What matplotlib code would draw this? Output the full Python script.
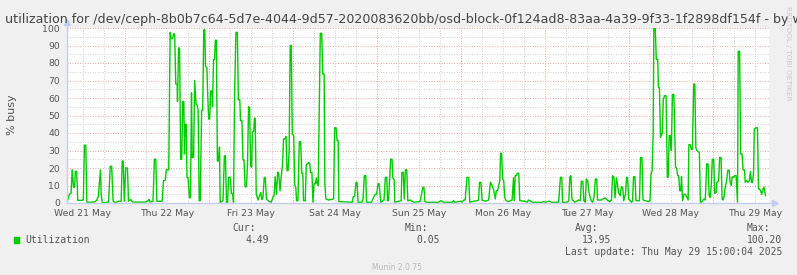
import matplotlib
matplotlib.use("Agg")
import matplotlib.pyplot as plt
from matplotlib.patches import Rectangle

hours = [
    7.43, 8.1, 8.6, 8.9, 9.3, 9.6, 9.8, 10.2, 10.5, 11.7, 12.1, 12.4, 12.8, 13.1, 15.3, 15.9, 16.4, 17.0, 17.2, 17.5,
    18.4, 19.3, 19.8, 20.2, 20.6, 21.2, 22.2, 22.9, 23.2, 23.5, 23.8, 24.2, 24.7, 25.0, 25.6, 26.2, 29.8, 30.4, 30.9, 31.2,
    32.0, 32.4, 32.8, 33.1, 34.6,
    35.0, 35.5, 35.8, 36.5, 36.9, 37.2, 37.6, 37.9, 38.2, 38.5, 38.9, 39.0, 39.3, 39.6, 39.9, 40.2, 40.5, 40.8, 41.0, 41.2,
    41.5, 41.7, 42.0, 42.4, 42.7, 43.0, 43.2, 43.6, 43.9, 44.3, 44.6, 44.9, 45.2, 45.5, 45.9, 46.2, 46.5, 46.8, 47.0, 47.4,
    47.6, 47.9, 48.2, 48.5, 48.9, 49.0, 49.3, 49.6, 49.8, 50.1, 50.4, 50.7, 51.0, 51.2, 51.7, 52.0, 52.4, 52.7, 53.0, 53.3,
    53.6, 54.1, 54.4, 54.8, 55.0, 55.3, 55.7, 56.1, 56.4, 56.8, 57.0, 57.4, 57.7, 58.0, 58.3, 58.7, 59.0, 59.3, 59.6, 59.9,
    60.2, 60.4, 60.8, 61.0, 61.2, 61.5, 62.0, 62.4, 62.8, 63.1,
    63.4, 63.8, 64.1, 64.4, 64.9, 65.2, 65.8, 66.2, 66.6, 66.9, 67.3, 67.6, 67.9, 68.3, 68.6, 69.0, 69.3, 69.7, 70.0, 70.3,
    70.6, 70.9, 71.2, 71.5, 71.8, 72.2, 72.5, 72.8, 73.0, 73.4, 73.8, 74.2, 74.5, 74.8, 75.0, 75.5, 75.8, 76.2, 76.5, 76.8,
    77.0, 77.4, 77.7, 78.0, 78.4, 78.7, 78.9, 79.2, 79.5, 79.8, 80.2, 80.5, 80.9, 81.1, 81.4, 82.2, 83.6, 83.9, 84.3, 84.6,
    84.9, 85.1, 88.9, 89.2, 89.6, 90.0, 90.3, 90.6, 91.7, 92.0, 92.4, 92.8, 93.0,
    94.4, 94.8, 95.1, 95.5, 95.9, 96.3, 96.6, 96.9, 97.1, 98.0, 98.4, 98.8, 99.0, 99.3, 99.6, 99.9, 100.3, 100.5, 100.9, 101.1,
    102.9, 103.1, 103.5, 103.8, 104.1, 104.5, 104.8, 105.5, 106.5, 108.3, 108.7, 109.1, 109.4, 109.7, 110.3, 113.6, 114.3, 115.0, 117.4, 117.9,
    118.2, 119.9, 120.3, 120.8, 121.2,
    121.7, 122.2, 122.5, 123.6, 124.6, 125.0, 125.3, 125.7, 126.0, 127.0, 127.9, 128.4, 128.7, 129.1, 129.4, 129.8, 130.1, 130.5, 130.8, 131.1,
    131.3, 131.6, 131.9, 132.2, 132.5, 132.9, 133.6, 134.6, 135.0, 135.2, 135.5, 135.8, 136.1, 136.5, 136.8, 138.4, 138.9, 139.3, 139.8, 140.3,
    143.1, 143.7, 144.1, 145.2, 146.0, 147.9, 148.4, 148.8, 149.0, 149.8, 150.3,
    150.8, 151.1, 151.4, 151.7, 152.5, 153.6, 154.1, 154.4, 154.8, 155.1, 155.5, 155.8, 156.2, 156.5, 156.9, 157.2, 157.6, 158.0, 158.4, 158.8,
    159.0, 160.1, 160.5, 161.2, 162.0, 162.5, 163.0, 163.3, 163.7, 164.0, 164.4, 164.7, 165.0, 165.5, 165.8, 166.2, 166.5, 167.0, 167.3, 167.6,
    167.9, 168.7, 169.0, 169.3, 169.7, 170.0, 171.0, 171.3, 171.7, 172.0, 173.6, 174.0, 174.3, 174.6, 174.9, 175.1, 175.5, 175.8, 176.2, 176.4,
    176.7, 177.0, 177.2, 177.5, 177.8, 178.2, 178.6,
    178.95, 179.2, 179.5, 179.8, 180.1, 180.4, 180.8, 181.0, 181.3, 181.6, 181.9, 182.2, 182.5, 182.8, 183.0, 183.3, 183.7, 184.1, 184.5, 184.9,
    185.1, 185.5, 185.8, 186.1, 186.5, 186.8, 187.1, 187.3, 187.7, 188.1, 188.4, 188.7, 189.4, 189.8, 190.2, 190.6, 190.9, 191.2, 191.5, 191.8,
    192.2, 192.5, 192.9, 193.1, 193.6, 193.9, 194.3, 194.6, 194.9, 195.2, 195.5, 195.9, 196.2, 196.6, 196.9, 197.2, 197.5, 197.9, 198.2, 198.6,
    199.0, 199.2, 199.6, 199.9, 200.3, 200.6, 201.0, 201.2, 201.6, 202.0, 202.4, 202.7, 203.0, 203.3, 203.6, 203.8, 204.2, 204.7, 205.0, 205.3,
    205.6, 205.9, 206.3, 206.6, 207.0,
]
util = [
    0.4, 5, 5.5, 19, 9, 9, 18, 18, 1.5, 1.5, 2, 33, 33, 0.5, 0.5, 1.5, 4, 19, 5, 0,
    0.3, 0.5, 21, 21, 1, 0.2, 1, 1, 24, 24, 1, 20, 20, 1, 2, 0.5, 0.5, 1, 2, 0.5,
    1, 25, 25, 1, 1,
    12.8, 13, 19, 19, 97.5, 94, 94, 96.6, 96.6, 68, 68, 58, 88.6, 88.6, 25, 25, 58, 58, 28, 45,
    45, 14.7, 14.5, 3, 3, 63, 26, 26, 70, 56.6, 56, 53, 1.3, 1.3, 53, 53, 99, 99, 78, 77.5,
    64, 48, 48, 64, 64, 55, 82, 82, 93, 93, 24, 24, 32, 0.2, 1, 1.3, 27, 27, 0.3, 0.3,
    14.7, 14.5, 5.5, 5, 0.3, 61, 97.5, 97.5, 59, 59, 47, 47, 24.6, 24.6, 9.3, 9.3, 22, 55, 54.5, 21,
    20.5, 40.5, 41, 48.6, 48, 5, 1.7, 4, 6, 2,
    3, 14.7, 14.5, 2.3, 1.3, 0.8, 0.4, 3.2, 4.2, 15, 5, 17.5, 17.5, 7, 14.5, 22, 36.6, 36.6, 38, 18.5,
    18.5, 30, 90, 90, 39.4, 38.5, 10, 9, 1.3, 1.3, 35, 35, 17, 17, 1.3, 1.3, 22, 22.5, 23.2, 22.5,
    17.5, 17.5, 0.4, 11, 11, 14.3, 11, 10, 53, 97, 97, 73.7, 73.7, 11, 2.3, 1.7, 2.3, 43, 43, 35.6,
    35.6, 0.8, 0.4, 3.6, 4, 11.8, 11.8, 0.4, 0.4, 2.3, 15.6, 15.6, 0.4,
    0.4, 2.3, 3.6, 5, 5, 11, 11, 4.8, 0.4, 1.7, 14.7, 14.7, 1.3, 1.3, 12.8, 25, 25, 14.3, 13.5, 0.4,
    1.3, 17.5, 17.5, 2.3, 19, 19, 1.3, 1.7, 0.4, 0.8, 5, 9, 9, 0.8, 0.4, 0.4, 1.3, 0.4, 0.4, 1.3,
    0.4, 1, 0.4, 1.7, 1.7,
    14.7, 14.5, 0.4, 1, 1.3, 1.7, 11.8, 11.8, 1.7, 1, 1.7, 11.8, 10.9, 8.6, 7, 2.3, 7, 7.4, 10, 12.8,
    28.4, 28.4, 13.7, 12.8, 3.2, 1.3, 0.8, 1.7, 14.3, 1.3, 15.6, 15.6, 17, 17, 1.3, 1, 0.4, 1.7, 1.3, 0.4,
    0.4, 0.8, 0.4, 1, 0.4, 0.4, 14.7, 14.7, 0.4, 0.4, 0.4,
    1.3, 15, 15.6, 2.3, 0.4, 1.7, 1.3, 12.4, 12.4, 1.3, 0.4, 13.7, 12.8, 7, 3.2, 1.3, 0.4, 3.2, 13.7, 13.7,
    1.7, 1.7, 2.3, 2.9, 1.3, 0.8, 1.7, 15.6, 14.7, 2.9, 14.3, 10.9, 6, 4.2, 9.3, 9, 1.3, 5.1, 14.7, 14.3,
    2.3, 0.4, 1, 15, 15, 1.3, 1.3, 26, 26, 1.7, 0.8, 1.3, 16.6, 18.5, 39.4, 100, 100, 82, 82, 66,
    65.7, 37.5, 39.4, 39.4, 59.4, 61.3, 61.3,
    14.7, 14.7, 38.5, 38.5, 30, 62, 62, 47, 20.4, 20, 15.6, 15.6, 7, 7, 15, 1.3, 5, 5, 3.6, 1.7,
    33.3, 33.3, 30.7, 30.7, 68, 68, 31.8, 30.3, 29.3, 29, 0.4, 0.4, 2.3, 1.7, 22.3, 22.3, 4.2, 3.2, 9.9, 25,
    25, 5.5, 6, 11.8, 12.4, 26, 26, 2.3, 1.7, 4.2, 9, 12.8, 18.5, 18.9, 11.8, 10, 15, 14.7, 15.6, 15.6,
    0.4, 86.7, 86.7, 28, 28, 18.9, 18.9, 11.8, 12.8, 11.8, 12.8, 18, 11.8, 11.8, 18, 42.3, 42.9, 43, 8, 8,
    7, 5, 8, 9, 4.2,
]

day_labels = ["Wed 21 May", "Thu 22 May", "Fri 23 May", "Sat 24 May", "Sun 25 May",
              "Mon 26 May", "Tue 27 May", "Wed 28 May", "Thu 29 May"]
legend_heads = ["Cur:", "Min:", "Avg:", "Max:"]
legend_vals = ["4.49", "0.05", "13.95", "100.20"]

title = ("utilization for /dev/ceph-8b0b7c64-5d7e-4044-9d57-2020083620bb/"
         "osd-block-0f124ad8-83aa-4a39-9f33-1f2898df154f - by w")

W, H = 797, 275
green = "#00cc00"
txt = "#555555"
red_grid = "#e8a8a8"
gray_grid = "#d0d0d0"
axis_col = "#c4ccf2"

fig = plt.figure(figsize=(W / 100, H / 100), dpi=100, facecolor="#f0f0f0")
ax = fig.add_axes([67 / W, 1 - 203 / H, (769 - 67) / W, (203 - 28) / H])
ax.set_facecolor("white")
x0, x1 = 7.43, 208.0
ax.set_xlim(x0, x1)
ax.set_ylim(0, 100)

# grid
dots = (0, (1, 1.6))
for v in range(5, 101, 5):
    c = red_grid if v % 10 == 0 else gray_grid
    ax.axhline(v, color=c, lw=0.7, ls=dots, zorder=1, clip_on=False)
for h in range(12, 208, 6):
    c = red_grid if h % 24 == 0 else gray_grid
    ax.axvline(h, color=c, lw=0.7, ls=dots, zorder=1)

ax.plot(hours, util, color=green, lw=1.0, zorder=3)

for s in ax.spines.values():
    s.set_visible(False)
ax.plot([0, 1 + 6 / 702], [0, 0], color=axis_col, lw=1, transform=ax.transAxes, clip_on=False, zorder=4)
ax.plot([0, 0], [0, 1 + 6 / 175], color=axis_col, lw=1, transform=ax.transAxes, clip_on=False, zorder=4)
ax.plot([1 + 6 / 702], [0], marker=">", ms=4, color=axis_col, transform=ax.transAxes, clip_on=False, zorder=4)
ax.plot([0], [1 + 6 / 175], marker="^", ms=4, color=axis_col, transform=ax.transAxes, clip_on=False, zorder=4)

ax.set_yticks(range(0, 101, 10))
ax.set_xticks([12 + 24 * i for i in range(len(day_labels))], day_labels)
ax.tick_params(length=0, labelsize=6.7, labelcolor=txt)
ax.tick_params(axis="y", pad=5)
ax.tick_params(axis="x", pad=4)

fig.text(5 / W, 1 - 19 / H, title, ha="left", va="center", fontsize=9.1, color="#444444")
fig.text(12 / W, 1 - 115 / H, "% busy", rotation=90, ha="center", va="center", fontsize=8, color=txt)
fig.text(788 / W, 1 - 53 / H, "RRDTOOL / TOBI OETIKER", rotation=270, ha="center", va="center",
         fontsize=5.3, color="#c8c8c8")

# legend
mono = "DejaVu Sans Mono"
fig.patches.append(Rectangle((14 / W, 1 - 243 / H), 5 / W, 6 / H, transform=fig.transFigure,
                             color=green, figure=fig))
fig.text(25 / W, 1 - 240 / H, "Utilization", family=mono, fontsize=7, color=txt, va="center")
head_right = [256, 428, 598, 770]
val_right = [269, 440, 611, 782]
for hd, vl, hr, vr in zip(legend_heads, legend_vals, head_right, val_right):
    fig.text(hr / W, 1 - 228 / H, hd, family=mono, fontsize=7, color=txt, ha="right", va="center")
    fig.text(vr / W, 1 - 240 / H, vl, family=mono, fontsize=7, color=txt, ha="right", va="center")
fig.text(782 / W, 1 - 252 / H, "Last update: Thu May 29 15:00:04 2025", family=mono, fontsize=7,
         color=txt, ha="right", va="center")
fig.text(397 / W, 1 - 268 / H, "Munin 2.0.75", fontsize=5.5, color="#b8b8b8", ha="center", va="center")

fig.savefig("out.png", dpi=100, facecolor=fig.get_facecolor())
